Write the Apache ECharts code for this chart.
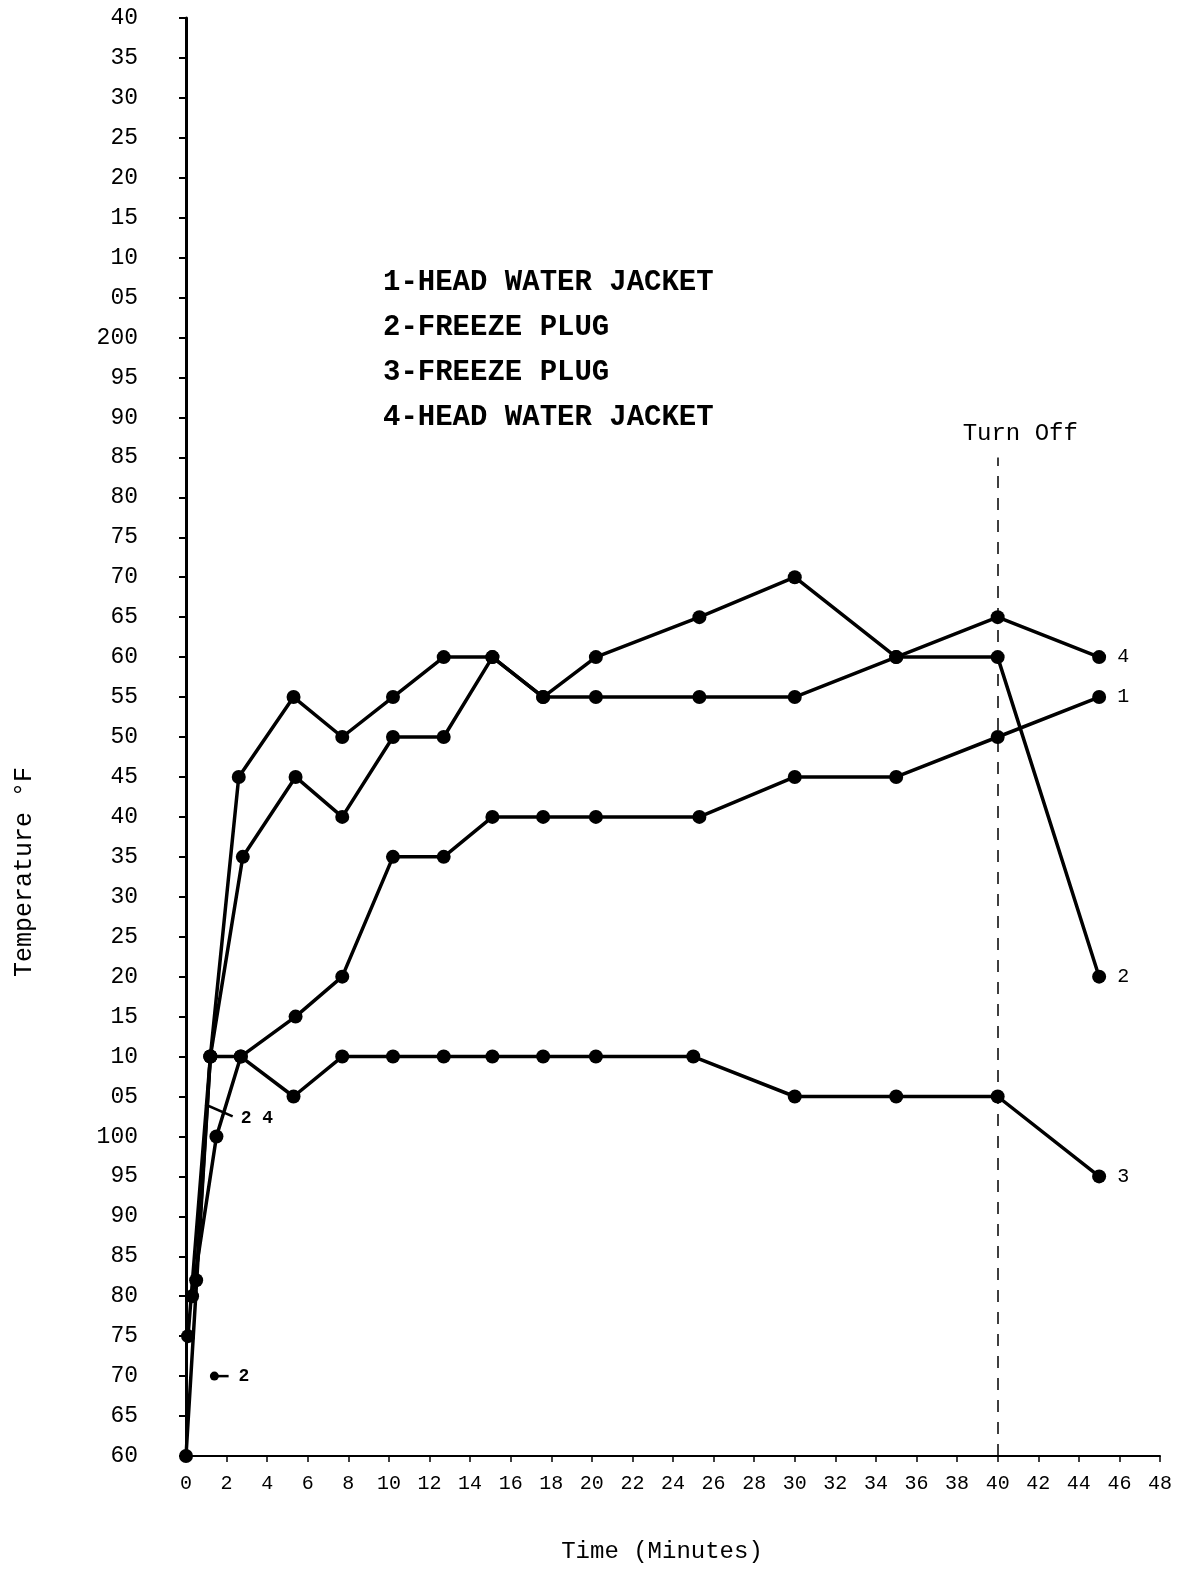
<!DOCTYPE html>
<html>
<head>
<meta charset="utf-8">
<script src="https://cdn.jsdelivr.net/npm/echarts@6/dist/echarts.min.js"></script>
<style>
  html, body { margin: 0; padding: 0; background: #fff; }
  #chart { width: 1196px; height: 1569px; }
</style>
</head>
<body>
<div id="chart"></div>
<script>
// 数据（时间 分钟 / 温度 °F）
const xTicks = [0, 2, 4, 6, 8, 10, 12, 14, 16, 18, 20, 22, 24, 26, 28, 30, 32, 34, 36, 38, 40, 42, 44, 46, 48];
const legendLines = ['1-HEAD WATER JACKET', '2-FREEZE PLUG', '3-FREEZE PLUG', '4-HEAD WATER JACKET'];

const time1 = [0.1, 1.2, 2.7, 5.4, 7.7, 10.2, 12.7, 15.1, 17.6, 20.2, 25.3, 30, 35, 40, 45];
const temp1 = [75, 110, 110, 115, 120, 135, 135, 140, 140, 140, 140, 145, 145, 150, 155];

const time2 = [0, 1.2, 2.8, 5.4, 7.7, 10.2, 12.7, 15.1, 17.6, 20.2, 25.3, 30, 35, 40, 45];
const temp2 = [60, 110, 135, 145, 140, 150, 150, 160, 155, 155, 155, 155, 160, 160, 120];

const time3 = [0.3, 1.5, 2.7, 5.3, 7.7, 10.2, 12.7, 15.1, 17.6, 20.2, 25, 30, 35, 40, 45];
const temp3 = [80, 100, 110, 105, 110, 110, 110, 110, 110, 110, 110, 105, 105, 105, 95];

const time4 = [0.5, 1.2, 2.6, 5.3, 7.7, 10.2, 12.7, 15.1, 17.6, 20.2, 25.3, 30, 35, 40, 45];
const temp4 = [82, 110, 145, 155, 150, 155, 160, 160, 155, 160, 165, 170, 160, 165, 160];

const turnOff = 40;

const mono = '"Liberation Mono", "DejaVu Sans Mono", monospace';

const pairs = (xs, ys) => xs.map((x, i) => [x, ys[i]]);

const mkSeries = (name, xs, ys) => ({
  name: name,
  type: 'line',
  data: pairs(xs, ys),
  symbol: 'circle',
  symbolSize: 14,
  lineStyle: { color: '#000', width: 3.5 },
  itemStyle: { color: '#000' },
  endLabel: {
    show: true,
    formatter: name,
    offset: [10, 0],
    fontFamily: mono,
    fontSize: 20,
    color: '#000',
  },
  animation: false,
});

const chart = echarts.init(document.getElementById('chart'));
const series = [
  mkSeries('1', time1, temp1),
  mkSeries('2', time2, temp2),
  mkSeries('3', time3, temp3),
  mkSeries('4', time4, temp4),
];
// 关机竖线
series[0].markLine = {
  silent: true,
  symbol: 'none',
  lineStyle: { color: '#000', type: [12, 10], width: 1.5 },
  label: { show: false },
  data: [[{ coord: [turnOff, 60] }, { coord: [turnOff, 185] }]],
};

const option = {
  backgroundColor: '#fff',
  animation: false,
  grid: { left: 186, right: 36, top: 18, bottom: 113 },
  xAxis: {
    type: 'value',
    min: 0,
    max: 48,
    interval: 2,
    axisLine: { show: true, lineStyle: { color: '#000', width: 2 } },
    axisTick: { show: true, length: 6, lineStyle: { color: '#000', width: 1.5 } },
    splitLine: { show: false },
    axisLabel: {
      margin: 18,
      fontFamily: mono,
      fontSize: 20,
      color: '#000',
      formatter: v => (xTicks.indexOf(v) >= 0 ? String(v) : ''),
    },
  },
  yAxis: {
    type: 'value',
    min: 60,
    max: 240,
    interval: 5,
    axisLine: { show: true, lineStyle: { color: '#000', width: 3 } },
    axisTick: { show: true, length: 7, lineStyle: { color: '#000', width: 2 } },
    splitLine: { show: false },
    axisLabel: {
      margin: 48,
      fontFamily: mono,
      fontSize: 23,
      color: '#000',
      formatter: v => {
        if (v === 100 || v === 200) return String(v);
        const r = v % 100;
        return r < 10 ? '0' + r : String(r);
      },
    },
  },
  series: series,
};
chart.setOption(option);

// 注释文字与箭头
const p24a = chart.convertToPixel('grid', [0.95, 104]);
const p24b = chart.convertToPixel('grid', [2.3, 102.5]);
const p2a = chart.convertToPixel('grid', [1.3, 70]);
const p2b = chart.convertToPixel('grid', [2.1, 70]);
const pOff = chart.convertToPixel('grid', [turnOff, 188]);

chart.setOption({
  graphic: [
    ...legendLines.map((t, i) => ({
      type: 'text',
      x: 383,
      y: 283 + i * 45,
      style: { text: t, font: 'bold 29px ' + mono, fill: '#000', verticalAlign: 'middle' },
    })),
    {
      type: 'text',
      x: pOff[0] - 35,
      y: 434,
      style: { text: 'Turn Off', font: '24px ' + mono, fill: '#000', verticalAlign: 'middle' },
    },
    {
      type: 'text',
      x: 24,
      y: 872,
      rotation: Math.PI / 2,
      style: { text: 'Temperature °F', font: '25px ' + mono, fill: '#000', align: 'center', verticalAlign: 'middle' },
    },
    {
      type: 'text',
      x: 662,
      y: 1552,
      style: { text: 'Time (Minutes)', font: '24px ' + mono, fill: '#000', align: 'center', verticalAlign: 'middle' },
    },
    {
      type: 'line',
      shape: { x1: p24a[0], y1: p24a[1], x2: p24b[0], y2: p24b[1] },
      style: { stroke: '#000', lineWidth: 2.5 },
    },
    {
      type: 'text',
      x: p24b[0] + 8,
      y: p24b[1] + 2,
      style: { text: '2 4', font: 'bold 18px ' + mono, fill: '#000', verticalAlign: 'middle' },
    },
    {
      type: 'circle',
      shape: { cx: p2a[0] + 2, cy: p2a[1], r: 4.5 },
      style: { fill: '#000' },
    },
    {
      type: 'line',
      shape: { x1: p2a[0], y1: p2a[1], x2: p2b[0], y2: p2b[1] },
      style: { stroke: '#000', lineWidth: 2.5 },
    },
    {
      type: 'text',
      x: p2b[0] + 10,
      y: p2b[1],
      style: { text: '2', font: 'bold 18px ' + mono, fill: '#000', verticalAlign: 'middle' },
    },
  ],
});

window.addEventListener('resize', () => {
  chart.resize();
});
</script>
</body>
</html>
